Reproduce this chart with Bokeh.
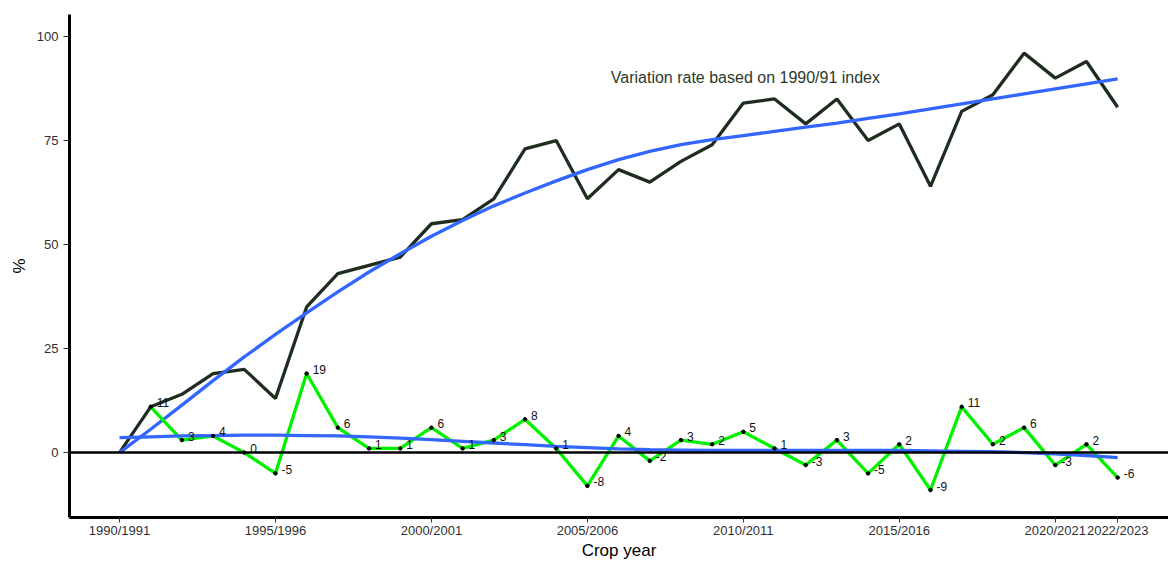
from bokeh.plotting import figure
from bokeh.models import Range1d, FixedTicker, Span, Label, ColumnDataSource
from bokeh.embed import file_html
from bokeh.resources import INLINE
from bokeh.core.properties import value

crop_years = ["1990/1991", "1991/1992", "1992/1993", "1993/1994", "1994/1995",
              "1995/1996", "1996/1997", "1997/1998", "1998/1999", "1999/2000",
              "2000/2001", "2001/2002", "2002/2003", "2003/2004", "2004/2005",
              "2005/2006", "2006/2007", "2007/2008", "2008/2009", "2009/2010",
              "2010/2011", "2011/2012", "2012/2013", "2013/2014", "2014/2015",
              "2015/2016", "2016/2017", "2017/2018", "2018/2019", "2019/2020",
              "2020/2021", "2021/2022", "2022/2023"]

# cumulative variation rate vs 1990/91 index (%)
cumulative = [0, 11, 14, 19, 20, 13, 35, 43, 45, 47, 55, 56, 61, 73, 75, 61, 68,
              65, 70, 74, 84, 85, 79, 85, 75, 79, 64, 82, 86, 96, 90, 94, 83]
cumulative_trend = [0, 5.6, 11.4, 17.3, 23.0, 28.4, 33.6, 38.6, 43.4, 47.8, 52.0,
                    55.8, 59.3, 62.4, 65.3, 68.0, 70.4, 72.4, 74.0, 75.2, 76.2,
                    77.2, 78.2, 79.2, 80.3, 81.4, 82.6, 83.8, 85.0, 86.2, 87.4,
                    88.6, 89.8]

# annual variation (%), from 1991/1992 on
annual = [11, 3, 4, 0, -5, 19, 6, 1, 1, 6, 1, 3, 8, 1, -8, 4, -2, 3, 2, 5, 1, -3,
          3, -5, 2, -9, 11, 2, 6, -3, 2, -6]
annual_trend = [3.6, 3.8, 4.0, 4.1, 4.2, 4.2, 4.1, 4.0, 3.8, 3.5, 3.1, 2.7, 2.3,
                1.9, 1.5, 1.2, 0.9, 0.7, 0.6, 0.5, 0.5, 0.5, 0.5, 0.5, 0.5, 0.5,
                0.4, 0.3, 0.2, 0.0, -0.3, -0.7, -1.2]

tick_years = ["1990/1991", "1995/1996", "2000/2001", "2005/2006", "2010/2011",
              "2015/2016", "2020/2021", "2022/2023"]
y_ticks = [0, 25, 50, 75, 100]
annotation = "Variation rate based on 1990/91 index"
x_title = "Crop year"
y_title = "%"

xs = list(range(len(crop_years)))
pos = {c: i for i, c in enumerate(crop_years)}

p = figure(width=1168, height=562, output_backend="svg", toolbar_location=None,
           x_range=Range1d(-1.603, 33.63), y_range=Range1d(-15.6, 105.29),
           min_border_left=69, min_border_right=0, min_border_top=14,
           min_border_bottom=45)
p.outline_line_color = None
p.background_fill_color = "white"
p.border_fill_color = "white"
p.xgrid.visible = False
p.ygrid.visible = False

FONT = "Liberation Sans"

p.xaxis.ticker = FixedTicker(ticks=[pos[t] for t in tick_years])
p.xaxis.major_label_overrides = {pos[t]: t for t in tick_years}
p.yaxis.ticker = FixedTicker(ticks=y_ticks)
for ax in (p.xaxis, p.yaxis):
    ax.axis_line_width = 3
    ax.axis_line_color = "black"
    ax.major_tick_in = 0
    ax.major_tick_line_color = "#333333"
    ax.minor_tick_line_color = None
    ax.major_label_text_font = FONT
    ax.major_label_text_font_size = "13px"
    ax.major_label_text_color = "#303030"
    ax.axis_label_text_font = FONT
    ax.axis_label_text_font_size = "17px"
    ax.axis_label_text_font_style = "normal"
    ax.axis_label_text_color = "black"
p.xaxis.major_tick_out = 5
p.xaxis.major_label_standoff = 0
p.xaxis.axis_label_standoff = 0
p.xaxis.axis_label = x_title
p.yaxis.major_tick_out = 6
p.yaxis.major_label_standoff = 5
p.yaxis.axis_label_standoff = 5
p.yaxis.axis_label = y_title

p.add_layout(Span(location=0, dimension="width", line_color="black", line_width=2.5))

p.line(xs, cumulative, line_color="#1f2d1f", line_width=3.3)
p.line(xs, cumulative_trend, line_color="#3366ff", line_width=3.3)

ax_x = xs[1:]
src = ColumnDataSource(dict(x=ax_x, y=annual, t=[str(v) for v in annual]))
p.line("x", "y", source=src, line_color="#00f000", line_width=3.3)
p.line(xs, annual_trend, line_color="#3366ff", line_width=3.3)
p.scatter("x", "y", source=src, size=3.5, color="black")
p.text("x", "y", text="t", source=src, x_offset=6, y_offset=-4,
       text_font=value(FONT), text_font_size="12px", text_color="#111111",
       text_align="left", text_baseline="middle")

p.add_layout(Label(x=15.75, y=90.1, text=annotation, text_font=FONT,
                   text_font_size="16px", text_color="#2c3a2c",
                   text_align="left", text_baseline="middle"))

open("out.html", "w").write(file_html(p, INLINE))
